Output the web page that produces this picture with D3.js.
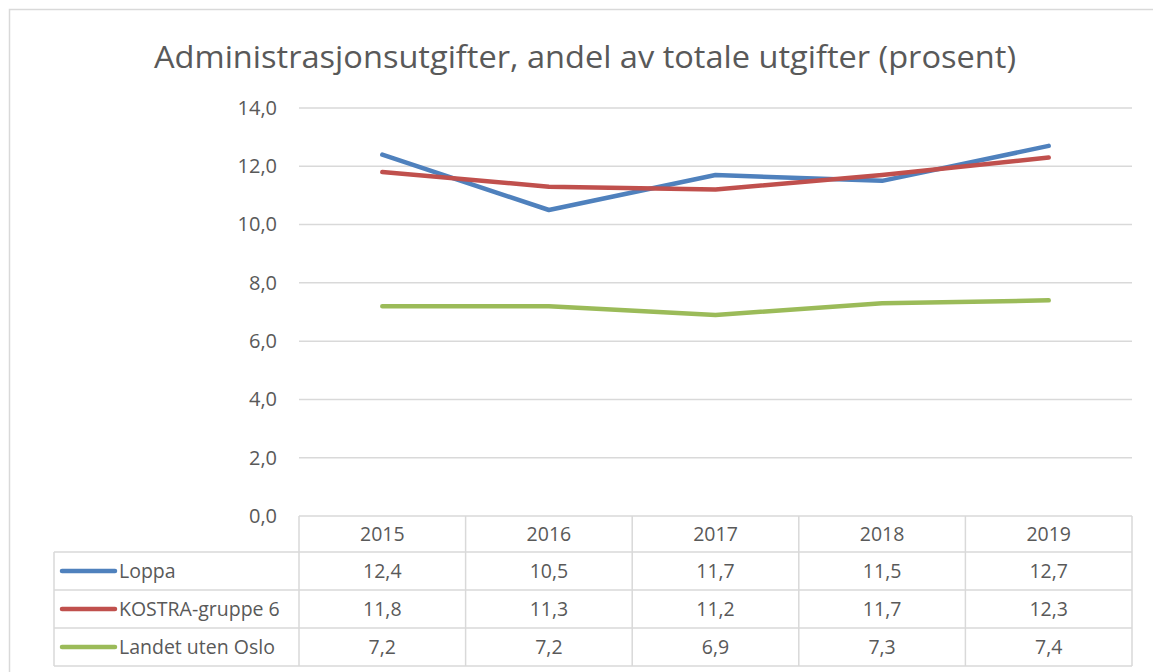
<!DOCTYPE html>
<html>
<head>
<meta charset="utf-8">
<script src="https://cdn.jsdelivr.net/npm/d3@7"></script>
<style>
  body { margin: 0; background: #fff; }
  text { font-family: "Open Sans", "Noto Sans", sans-serif; fill: #595959; }
</style>
</head>
<body>
<script>
// data
const years = ["2015", "2016", "2017", "2018", "2019"];
const seriesNames = ["Loppa", "KOSTRA-gruppe 6", "Landet uten Oslo"];
const loppa = [12.4, 10.5, 11.7, 11.5, 12.7];
const kostra = [11.8, 11.3, 11.2, 11.7, 12.3];
const landet = [7.2, 7.2, 6.9, 7.3, 7.4];
const yTicks = [0, 2, 4, 6, 8, 10, 12, 14];
const colors = ["#4F81BD", "#C0504D", "#9BBB59"];
const title = "Administrasjonsutgifter, andel av totale utgifter (prosent)";

const W = 1153, H = 672;
const plot = { left: 299, right: 1132, top: 108, bottom: 516 };
const rowH = 38;
const tableLeft = 54;
const fs = 19.5;

const svg = d3.select("body").append("svg")
    .attr("width", W)
    .attr("height", H);

// chart frame (top + left edge only visible)
svg.append("path")
    .attr("d", "M9.5," + H + "V9.5H" + W)
    .attr("fill", "none")
    .attr("stroke", "#D9D9D9")
    .attr("stroke-width", 1.5);

svg.append("text")
    .attr("x", 585)
    .attr("y", 68)
    .attr("text-anchor", "middle")
    .attr("font-size", 31)
    .attr("textLength", 862)
    .attr("lengthAdjust", "spacingAndGlyphs")
    .text(title);

const x = d3.scaleBand().domain(years).range([plot.left, plot.right]);
const y = d3.scaleLinear().domain([0, 14]).range([plot.bottom, plot.top]);

// gridlines
svg.append("g")
    .selectAll("line")
    .data(yTicks.filter(d => d > 0))
    .join("line")
    .attr("x1", plot.left)
    .attr("x2", plot.right)
    .attr("y1", d => y(d))
    .attr("y2", d => y(d))
    .attr("stroke", "#D9D9D9")
    .attr("stroke-width", 1.5);

// y axis labels
const fmt = d => d3.format(".1f")(d).replace(".", ",");
const yAxis = d3.axisLeft(y).tickValues(yTicks).tickFormat(fmt).tickSize(0).tickPadding(22);
const yg = svg.append("g")
    .attr("transform", "translate(" + plot.left + ",0)")
    .call(yAxis);
yg.select(".domain").remove();
yg.selectAll("text")
    .attr("font-size", 20)
    .attr("font-family", null)
    .attr("fill", "#595959");

// lines
const allSeries = [loppa, kostra, landet];
const line = d3.line()
    .x((d, i) => x(years[i]) + x.bandwidth() / 2)
    .y(d => y(d));

svg.append("g")
    .selectAll("path")
    .data(allSeries)
    .join("path")
    .attr("d", d => line(d))
    .attr("fill", "none")
    .attr("stroke", (d, i) => colors[i])
    .attr("stroke-width", 4.5)
    .attr("stroke-linecap", "round")
    .attr("stroke-linejoin", "round");

// data table
const grid = "#D9D9D9";
const tbl = svg.append("g");
const rowY = i => plot.bottom + 36 + i * rowH;

// horizontal lines
tbl.append("line")
    .attr("x1", plot.left).attr("x2", plot.right)
    .attr("y1", plot.bottom).attr("y2", plot.bottom)
    .attr("stroke", grid).attr("stroke-width", 1.5);
[0, 1, 2, 3].forEach(i => {
    tbl.append("line")
        .attr("x1", tableLeft).attr("x2", plot.right)
        .attr("y1", rowY(i)).attr("y2", rowY(i))
        .attr("stroke", grid).attr("stroke-width", 1.5);
});
// vertical lines
tbl.append("line")
    .attr("x1", tableLeft).attr("x2", tableLeft)
    .attr("y1", rowY(0)).attr("y2", rowY(3))
    .attr("stroke", grid).attr("stroke-width", 1.5);
tbl.selectAll(".vline")
    .data(years.map(d => x(d)).concat([plot.right]))
    .join("line")
    .attr("class", "vline")
    .attr("x1", d => d).attr("x2", d => d)
    .attr("y1", plot.bottom).attr("y2", rowY(3))
    .attr("stroke", grid).attr("stroke-width", 1.5);

// header years
tbl.selectAll(".yr")
    .data(years)
    .join("text")
    .attr("class", "yr")
    .attr("x", d => x(d) + x.bandwidth() / 2)
    .attr("y", plot.bottom + 18)
    .attr("dy", "0.35em")
    .attr("text-anchor", "middle")
    .attr("font-size", fs)
    .text(d => d);

// rows
seriesNames.forEach((name, i) => {
    const cy = rowY(i) + rowH / 2;
    tbl.append("line")
        .attr("x1", 62).attr("x2", 115)
        .attr("y1", cy).attr("y2", cy)
        .attr("stroke", colors[i])
        .attr("stroke-width", 4.5)
        .attr("stroke-linecap", "round");
    tbl.append("text")
        .attr("x", 119)
        .attr("y", cy)
        .attr("dy", "0.35em")
        .attr("font-size", fs)
        .text(name);
    tbl.selectAll(".v" + i)
        .data(allSeries[i])
        .join("text")
        .attr("class", "v" + i)
        .attr("x", (d, j) => x(years[j]) + x.bandwidth() / 2)
        .attr("y", cy)
        .attr("dy", "0.35em")
        .attr("text-anchor", "middle")
        .attr("font-size", fs)
        .text(d => fmt(d));
});
</script>
</body>
</html>
